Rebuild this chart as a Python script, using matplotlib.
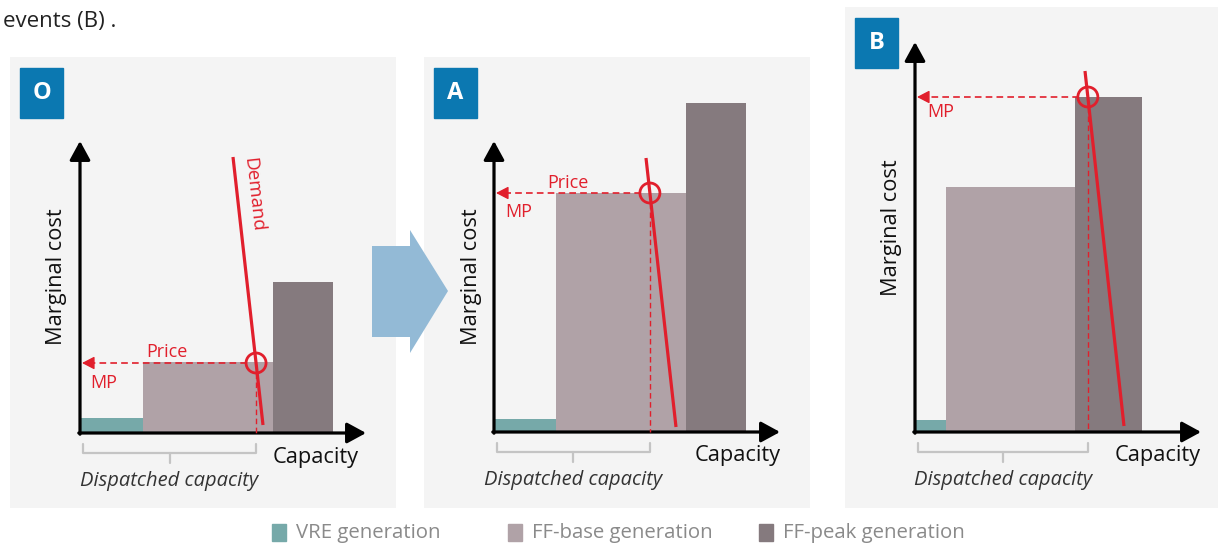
import matplotlib
matplotlib.use("Agg")
import matplotlib.pyplot as plt
from matplotlib.patches import Rectangle, Circle, Polygon
from matplotlib.path import Path
from matplotlib.patches import PathPatch

plt.rcParams['font.family'] = ['Open Sans', 'DejaVu Sans']

# merit-order data, one entry per panel (capacity / marginal cost units)
panels = ['O', 'A', 'B']
vre_width = [6.3, 6.2, 3.1]
base_width = [13.0, 13.0, 12.9]
peak_width = [6.0, 6.0, 6.7]
vre_cost = [1.5, 1.3, 1.2]
base_cost = [7.1, 23.9, 24.5]
peak_cost = [15.1, 32.9, 33.5]
price = [7.0, 23.9, 33.5]
demand_top = [(15.3, 27.6), (15.2, 27.4), (17.0, 36.1)]
demand_bottom = [(18.3, 0.8), (18.2, 0.5), (20.9, 0.6)]
show_demand_label = [True, False, False]

legend_names = ['VRE generation', 'FF-base generation', 'FF-peak generation']
colors = ['#76a9a9', '#b0a2a7', '#857a7e']
red = '#e11f2c'

W, H = 1218, 543
fig = plt.figure(figsize=(W / 100, H / 100), dpi=100)

# panel layout in pixels: background box and axis origin, axis tip lengths
boxes = [(10, 57, 396, 508), (424, 57, 810, 508), (845, 7, 1218, 508)]
origins = [(80, 433), (494, 432), (915, 432)]
y_tip = [29.2, 29.1, 39.0]
x_tip = 28.6
ylabel_y = [15.6, 15.5, 20.4]
cap_x = [19.3, 20.1, 20.0]
price_lbl = [(6.6, 8.1), (5.3, 24.9), None]
mp_lbl = [(1.0, 5.0), (1.1, 22.0), (1.2, 32.0)]

axis_arrow = dict(arrowstyle='-|>,head_length=0.55,head_width=0.3',
                  color='black', lw=2.3, mutation_scale=21,
                  shrinkA=0, shrinkB=0)

for i, name in enumerate(panels):
    x0, y0, x1, y1 = boxes[i]
    ox, oy = origins[i]
    ax = fig.add_axes([x0 / W, (H - y1) / H, (x1 - x0) / W, (y1 - y0) / H])
    ax.set_xlim((x0 - ox) / 10, (x1 - ox) / 10)
    ax.set_ylim((oy - y1) / 10, (oy - y0) / 10)
    ax.set_facecolor('#f4f4f4')
    for s in ax.spines.values():
        s.set_visible(False)
    ax.set_xticks([])
    ax.set_yticks([])

    widths = [vre_width[i], base_width[i], peak_width[i]]
    costs = [vre_cost[i], base_cost[i], peak_cost[i]]
    left = 0
    for w, c, col in zip(widths, costs, colors):
        ax.bar(left, c, width=w, align='edge', color=col, zorder=2)
        left += w

    # axes arrows
    ax.annotate('', xy=(x_tip, 0), xytext=(-0.12, 0), arrowprops=axis_arrow, zorder=5)
    ax.annotate('', xy=(0, y_tip[i]), xytext=(0, -0.12), arrowprops=axis_arrow, zorder=5)

    # demand curve and its crossing with the price level
    (tx, ty), (bx, by) = demand_top[i], demand_bottom[i]
    p = price[i]
    px = tx + (ty - p) / (ty - by) * (bx - tx)
    ax.plot([tx, bx], [ty, by], color=red, lw=2.3, zorder=6, solid_capstyle='butt')
    ax.add_patch(Circle((px, p), 1.0, fill=False, ec=red, lw=2.0, zorder=7))
    ax.plot([px - 0.9, 0.9], [p, p], color=red, lw=1.2, ls=(0, (4, 2.5)), zorder=6)
    ax.plot([px, px], [p - 1.0, 0], color=red, lw=1.0, ls=(0, (4, 2.5)), zorder=6)
    ax.annotate('', xy=(0.2, p), xytext=(1.0, p),
                arrowprops=dict(arrowstyle='-|>,head_length=0.5,head_width=0.26',
                                color=red, lw=1.0, mutation_scale=15,
                                shrinkA=0, shrinkB=0), zorder=6)

    if price_lbl[i]:
        ax.text(*price_lbl[i], 'Price', color=red, fontsize=13, ha='left', va='center', zorder=8)
    ax.text(*mp_lbl[i], 'MP', color=red, fontsize=13, ha='left', va='center', zorder=8)
    if show_demand_label[i]:
        ax.text(17.3, 23.8, 'Demand', color=red, fontsize=13.5, rotation=-83.6,
                ha='center', va='center', zorder=8)

    ax.text(-2.3, ylabel_y[i], 'Marginal cost', rotation=90, fontsize=15.7,
            ha='center', va='center', color='#111111')
    ax.text(cap_x[i], -2.4, 'Capacity', fontsize=15.7, ha='left', va='center',
            color='#111111')

    # dispatched capacity brace
    bl, br = 0.3, px
    verts = [(bl, -1.1), (bl, -2.0), (br, -2.0), (br, -1.1)]
    ax.add_patch(PathPatch(Path(verts), fill=False, ec='#c4c4c4', lw=1.6,
                           joinstyle='round', capstyle='round'))
    mid = (bl + br) / 2
    ax.plot([mid, mid], [-2.0, -3.0], color='#c4c4c4', lw=1.6, solid_capstyle='round')
    ax.text(mid, -4.8, 'Dispatched capacity', fontsize=14.5, style='italic',
            color='#333333', ha='center', va='center')

# overlay in pixel coordinates for badges, arrow, legend, caption
ov = fig.add_axes([0, 0, 1, 1], zorder=10)
ov.set_xlim(0, W)
ov.set_ylim(H, 0)
ov.patch.set_alpha(0)
ov.axis('off')

ov.text(3, 22, 'events (B) .', fontsize=16, color='#222222', ha='left', va='center')

badge_pos = [(20, 68), (434, 68), (855, 18)]
for name, (bx0, by0) in zip(panels, badge_pos):
    ov.add_patch(Rectangle((bx0, by0), 43, 50, color='#0b78b1'))
    ov.text(bx0 + 21.5, by0 + 25, name, color='white', fontsize=17,
            fontweight='bold', ha='center', va='center')

ov.add_patch(Polygon([(372, 246), (410, 246), (410, 230), (448, 291),
                      (410, 353), (410, 337), (372, 337)], closed=True,
                     color='#93bad6', lw=0))

leg_x = [272, 508, 759]
for nm, col, lx in zip(legend_names, colors, leg_x):
    ov.add_patch(Rectangle((lx, 524), 14, 17, color=col))
    ov.text(lx + 24, 533, nm, fontsize=14.7, color='#8a8a8a', ha='left', va='center')

fig.savefig('out.png', dpi=100)
